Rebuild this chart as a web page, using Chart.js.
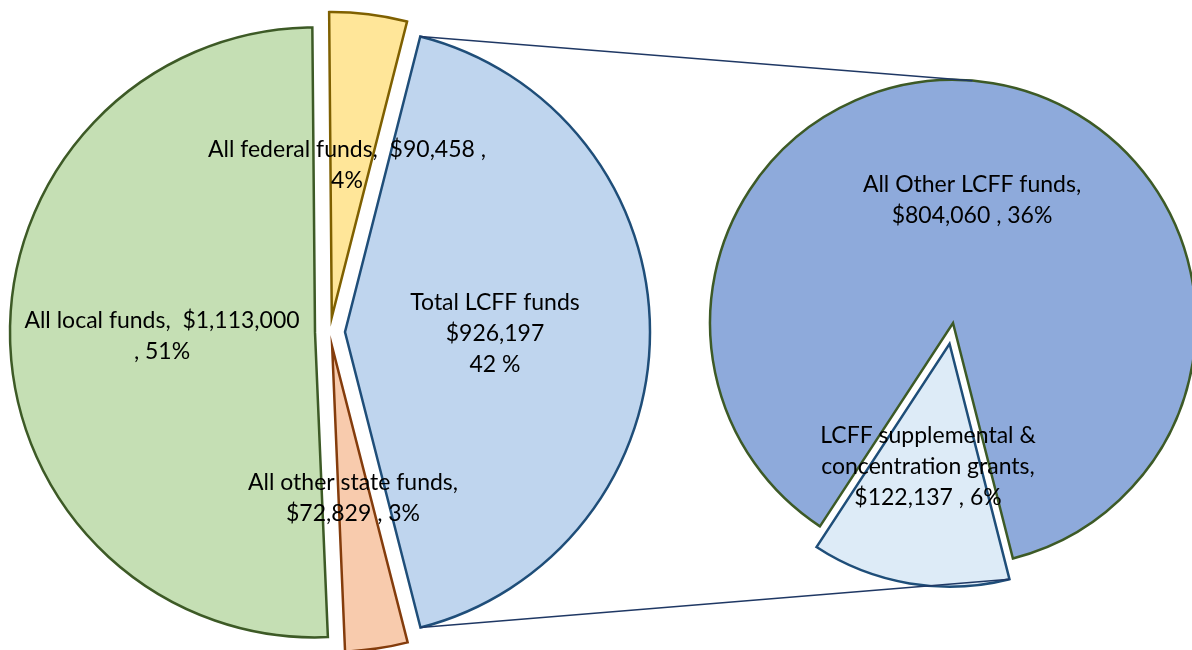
<!DOCTYPE html>
<html>
<head>
<meta charset="utf-8">
<title>Funding sources and LCFF breakdown</title>
<script src="https://cdn.jsdelivr.net/npm/chart.js@4.4.1/dist/chart.umd.min.js"></script>
<style>
  html, body { margin: 0; padding: 0; background: #fff; overflow: hidden; }
  #wrap { position: relative; width: 1192px; height: 650px; }
  #wrap canvas { position: absolute; left: 0; top: 0; }
</style>
</head>
<body>
<div id="wrap">
  <canvas id="mainPie" width="1192" height="650"></canvas>
  <canvas id="detailPie" width="1192" height="650"></canvas>
</div>
<script>
// main pie: all funds
const mainLabels = ['All federal funds', 'Total LCFF funds', 'All other state funds', 'All local funds'];
const mainValues = [90458, 926197, 72829, 1113000];
const mainPercents = [4, 42, 3, 51];

// secondary pie: breakdown of Total LCFF funds
const detailLabels = ['All Other LCFF funds', 'LCFF supplemental & concentration grants'];
const detailValues = [804060, 122137];
const detailPercents = [36, 6];

const money = v => '$' + v.toLocaleString('en-US');

// label text, split the way the chart wraps it
const mainText = [
    [mainLabels[0] + ',  ' + money(mainValues[0]) + ' ,', mainPercents[0] + '%'],
    [mainLabels[1], money(mainValues[1]), mainPercents[1] + ' %'],
    [mainLabels[2] + ',', money(mainValues[2]) + ' , ' + mainPercents[2] + '%'],
    [mainLabels[3] + ',  ' + money(mainValues[3]), ', ' + mainPercents[3] + '%']
];
const detailText = [
    [detailLabels[0] + ',', money(detailValues[0]) + ' , ' + detailPercents[0] + '%'],
    ['LCFF supplemental &', 'concentration grants,', money(detailValues[1]) + ' , ' + detailPercents[1] + '%']
];

const FONT = '23px Lato, "Open Sans", sans-serif';

// Draws each slice pushed out along its bisector, then the labels on top
const explodedPie = {
    id: 'explodedPie',
    beforeDatasetDraw(chart, args, opts) {
        const ctx = chart.ctx;
        args.meta.data.forEach((arc, i) => {
            const mid = (arc.startAngle + arc.endAngle) / 2;
            const d = opts.explode[i] || 0;
            ctx.save();
            ctx.translate(Math.cos(mid) * d, Math.sin(mid) * d);
            arc.draw(ctx);
            ctx.restore();
        });
        return false;
    },
    afterDraw(chart, args, opts) {
        const ctx = chart.ctx;
        const first = chart.getDatasetMeta(0).data[0];
        ctx.save();
        ctx.font = FONT;
        ctx.fillStyle = '#000';
        ctx.textAlign = 'center';
        ctx.textBaseline = 'alphabetic';
        opts.lines.forEach((lines, i) => {
            const at = opts.at[i];
            lines.forEach((t, k) => {
                ctx.fillText(t, first.x + at[0], first.y + at[1] + k * opts.lineGap);
            });
        });
        ctx.restore();
    }
};

function baseOptions(padding, radius, rotation) {
    return {
        responsive: false,
        animation: false,
        events: [],
        rotation: rotation,
        layout: { padding: padding },
        plugins: {
            legend: { display: false },
            tooltip: { enabled: false }
        }
    };
}

const mainOpts = baseOptions({ left: 0, right: 532, top: 14, bottom: 0 }, 305, -0.5);
mainOpts.plugins.explodedPie = {
    explode: [15, 15, 15, 15],
    lines: mainText,
    at: [[17, -175], [165, -22], [23, 158], [-168, -4]],
    lineGap: 31
};

const mainChart = new Chart(document.getElementById('mainPie'), {
    type: 'pie',
    data: {
        labels: mainLabels,
        datasets: [{
            data: mainValues,
            radius: 305,
            backgroundColor: ['#ffe699', '#bfd5ee', '#f8cbad', '#c5dfb4'],
            borderColor: ['#7f6000', '#1f4e79', '#843c0c', '#3d5a26'],
            borderWidth: 2.5,
            borderJoinStyle: 'miter'
        }]
    },
    options: mainOpts,
    plugins: [explodedPie]
});

// helper: outer corner of an exploded slice at a given angle
function sliceCorner(arc, angle, d) {
    const mid = (arc.startAngle + arc.endAngle) / 2;
    return {
        x: arc.x + Math.cos(mid) * d + Math.cos(angle) * arc.outerRadius,
        y: arc.y + Math.sin(mid) * d + Math.sin(angle) * arc.outerRadius
    };
}

// lines linking the LCFF slice to the secondary pie
const connectors = {
    id: 'connectors',
    afterDraw(chart) {
        const ctx = chart.ctx;
        const mainExplode = mainChart.options.plugins.explodedPie.explode;
        const lcff = mainChart.getDatasetMeta(0).data[1];
        const arcs = chart.getDatasetMeta(0).data;
        const big = arcs[0], small = arcs[1];
        const smallExplode = chart.options.plugins.explodedPie.explode[1];

        const top = sliceCorner(lcff, lcff.startAngle, mainExplode[1]);
        const bottom = sliceCorner(lcff, lcff.endAngle, mainExplode[1]);

        // tangent point on the secondary pie, upper side
        const dx = top.x - big.x, dy = top.y - big.y;
        const dist = Math.hypot(dx, dy);
        const a = Math.atan2(dy, dx) + Math.acos(big.outerRadius / dist);
        const touch = { x: big.x + Math.cos(a) * big.outerRadius, y: big.y + Math.sin(a) * big.outerRadius };

        const end = sliceCorner(small, small.startAngle, smallExplode);

        ctx.save();
        ctx.strokeStyle = '#1f3864';
        ctx.lineWidth = 1.6;
        ctx.beginPath();
        ctx.moveTo(top.x, top.y);
        ctx.lineTo(touch.x, touch.y);
        ctx.moveTo(bottom.x, bottom.y);
        ctx.lineTo(end.x, end.y);
        ctx.stroke();
        ctx.restore();
    }
};

const detailOpts = baseOptions({ left: 714, right: 0, top: 0, bottom: 4 }, 243, 213.2);
detailOpts.plugins.explodedPie = {
    explode: [0, 21],
    lines: detailText,
    at: [[19, -131], [-25, 120]],
    lineGap: 31
};

const detailChart = new Chart(document.getElementById('detailPie'), {
    type: 'pie',
    data: {
        labels: detailLabels,
        datasets: [{
            data: detailValues,
            radius: 243,
            backgroundColor: ['#8eaadb', '#ddebf7'],
            borderColor: ['#3d5a26', '#1f4e79'],
            borderWidth: 2.5,
            borderJoinStyle: 'miter'
        }]
    },
    options: detailOpts,
    plugins: [explodedPie, connectors]
});
</script>
</body>
</html>
